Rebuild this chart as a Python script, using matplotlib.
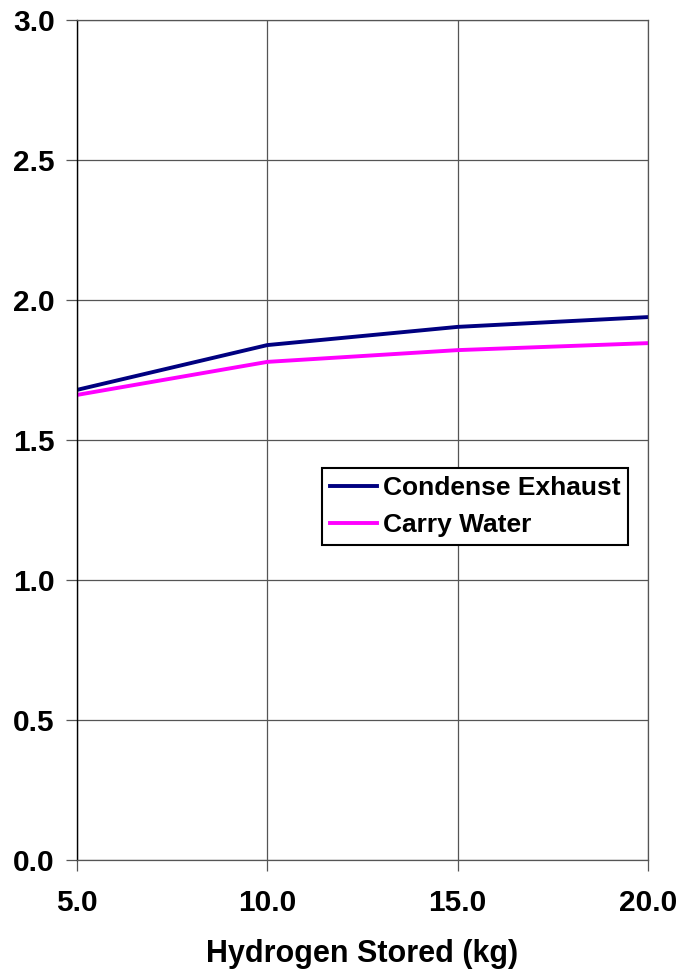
import matplotlib.pyplot as plt

plt.rcParams['font.family'] = ['Liberation Sans', 'DejaVu Sans']
plt.rcParams['font.weight'] = 'bold'

hydrogen = [5.0, 10.0, 15.0, 20.0]
condense = [1.679, 1.839, 1.904, 1.939]
carry = [1.661, 1.779, 1.821, 1.846]

fig = plt.figure(figsize=(6.78, 9.72), dpi=100)
ax = fig.add_axes([77 / 678, 112 / 972, 571 / 678, 840 / 972])

ax.plot(hydrogen, condense, color='#000080', lw=2.8, label='Condense Exhaust')
ax.plot(hydrogen, carry, color='#ff00ff', lw=2.8, label='Carry Water')

ax.set_xlim(5, 20)
ax.set_ylim(0, 3)
ax.set_xticks(hydrogen)
ax.set_xticklabels([f'{v:.1f}' for v in hydrogen], fontweight='bold', fontsize=21.5)
ax.set_yticks([0, 0.5, 1.0, 1.5, 2.0, 2.5, 3.0])
ax.set_yticklabels(['0.0', '0.5', '1.0', '1.5', '2.0', '2.5', '3.0'],
                   fontweight='bold', fontsize=21.5)
ax.grid(True, color='#555555', lw=0.9)
for s in ['top', 'right', 'bottom']:
    ax.spines[s].set_color('#555555')
    ax.spines[s].set_linewidth(0.9)
ax.spines['left'].set_color('black')
ax.spines['left'].set_linewidth(1.0)
ax.tick_params(axis='both', length=8, width=0.9, color='#555555')
ax.tick_params(axis='y', pad=8)
ax.tick_params(axis='x', pad=13)
ax.set_xlabel('Hydrogen Stored (kg)', fontsize=22, fontweight='bold', labelpad=16)

leg = ax.legend(loc='upper left', bbox_to_anchor=(245 / 571, (860 - 468) / 840),
                prop={'size': 19, 'weight': 'bold'}, frameon=True, fancybox=False,
                edgecolor='black', handlelength=1.8, handletextpad=0.2, borderpad=0.3,
                labelspacing=0.5, borderaxespad=0, framealpha=1)
leg.get_frame().set_linewidth(1.5)

fig.savefig('out.png', dpi=100)
